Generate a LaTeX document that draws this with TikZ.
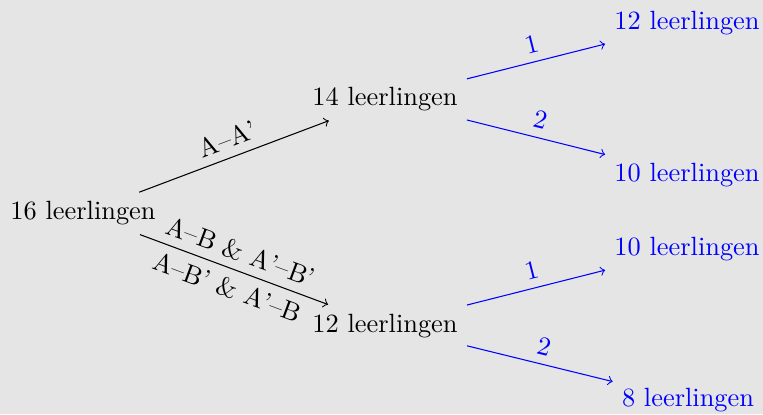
\documentclass[tikz,border=0pt]{standalone}
\begin{document}
\begin{tikzpicture}[x=0.379pt,y=-0.379pt,
  lvl/.style={inner sep=0.3333em},
  blk/.style={lvl,text=black},
  bl/.style={lvl,text=blue},
  edgeb/.style={->,black},
  edgeu/.style={->,blue},
  lab/.style={midway,sloped,font=\normalsize}]
\fill[gray!20] (0,0) rectangle (763,414);
\useasboundingbox (0,0) rectangle (763,414);
\node[blk] (r) at (83,213.4) {16 leerlingen};
\node[blk] (a) at (385,99.5) {14 leerlingen};
\node[blk] (b) at (385,325.7) {12 leerlingen};
\node[bl] (a1) at (687,23.4) {12 leerlingen};
\node[bl] (a2) at (687,175) {10 leerlingen};
\node[bl] (b1) at (687,249.5) {10 leerlingen};
\node[bl] (b2) at (688,400) {8 leerlingen};
\draw[edgeb] (r) -- node[lab,above] {A--A'} (a);
\draw[edgeb] (r) -- node[lab,above] {A--B \& A'--B'} node[lab,below] {A--B' \& A'--B} (b);
\draw[edgeu] (a) -- node[lab,above,text=blue] {1} (a1);
\draw[edgeu] (a) -- node[lab,above,text=blue] {2} (a2);
\draw[edgeu] (b) -- node[lab,above,text=blue] {1} (b1);
\draw[edgeu] (b) -- node[lab,above,text=blue] {2} (b2);
\end{tikzpicture}
\end{document}
